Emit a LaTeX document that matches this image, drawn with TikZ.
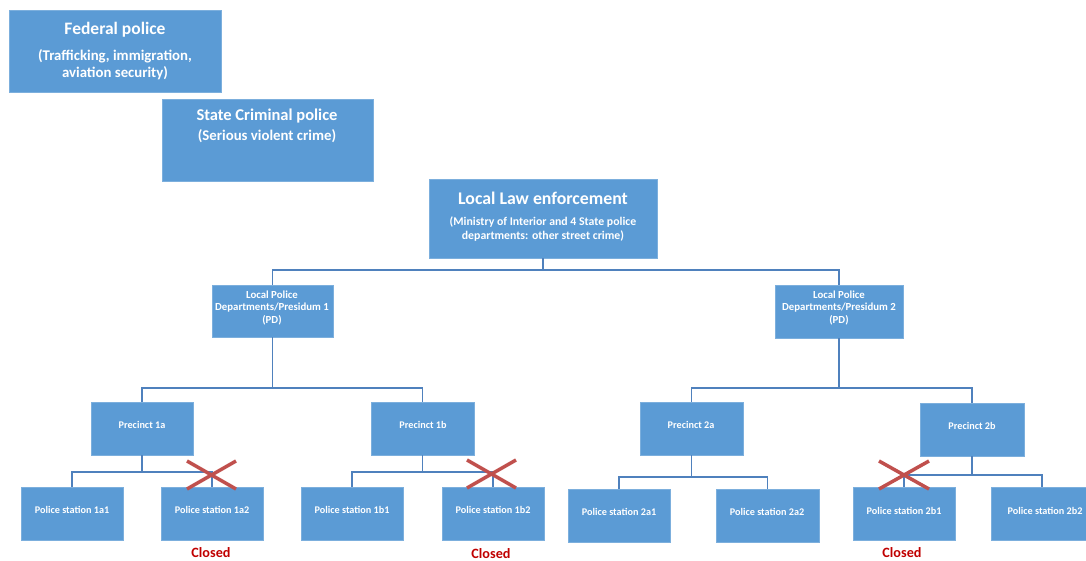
\documentclass[tikz,border=0pt]{standalone}
\usepackage{fontspec}
\setmainfont{Carlito}
\definecolor{boxblue}{HTML}{5B9BD5}
\definecolor{lineblue}{HTML}{4F81BD}
\definecolor{xred}{HTML}{C0504D}
\definecolor{closedred}{HTML}{C00000}
\begin{document}
\begin{tikzpicture}[x=1pt,y=-1pt,
  box/.style={draw=boxblue!80!white,fill=boxblue,inner sep=0pt,line width=0.6pt},
  txt/.style={text=white,font=\bfseries,align=center,inner sep=0pt},
  conn/.style={draw=lineblue,line width=1.6pt},
  cross/.style={draw=xred,line width=3.5pt},
  closed/.style={text=closedred,font=\fontsize{14.2}{16}\selectfont\bfseries,inner sep=0pt}]
\useasboundingbox (0,0) rectangle (1086,560);
\newcommand{\bx}[5]{\node[box,minimum width=#4-#2,minimum height=#5-#3] (#1) at ({(#2+#4)/2},{(#3+#5)/2}) {};}
% boxes
\bx{fed}{9}{10}{221}{92}
\bx{state}{162}{99}{373}{181}
\bx{ll}{429}{179}{657}{258}
\bx{pd1}{212}{285}{333}{337}
\bx{pd2}{775}{285}{903}{338}
\bx{p1a}{91}{402}{193}{455}
\bx{p1b}{371}{402}{474}{455}
\bx{p2a}{640}{402}{743}{455}
\bx{p2b}{920}{403}{1024}{456}
\bx{s1a1}{21}{487}{123}{540}
\bx{s1a2}{161}{487}{263}{540}
\bx{s1b1}{301}{487}{403}{540}
\bx{s1b2}{442}{487}{544}{540}
\bx{s2a1}{568}{489}{670}{542}
\bx{s2a2}{716}{489}{819}{542}
\bx{s2b1}{853}{487}{955}{540}
\bx{s2b2}{991}{487}{1093}{540}
% texts
\node[txt,font=\fontsize{17.5}{20}\selectfont\bfseries] (tfed) at (115,30) {Federal police};
\node[txt,font=\fontsize{14.8}{17}\selectfont\bfseries] (tfed2) at (115,65) {(Trafficking, immigration,\\aviation security)};
\node[txt,font=\fontsize{16.5}{20}\selectfont\bfseries] (tstate) at (267,116) {State Criminal police};
\node[txt,font=\fontsize{14.8}{17}\selectfont\bfseries] (tstate2) at (267,136) {(Serious violent crime)};
\node[txt,font=\fontsize{17.8}{21}\selectfont\bfseries] (tll) at (543,198) {Local Law enforcement};
\node[txt,font=\fontsize{11.8}{14}\selectfont\bfseries] (tll2) at (543,229) {(Ministry of Interior and 4 State police\\departments: other street crime)};
\node[txt,font=\fontsize{10.8}{12.5}\selectfont\bfseries] (tpd1) at (272,308) {Local Police\\Departments/Presidum 1\\(PD)};
\node[txt,font=\fontsize{10.8}{12.5}\selectfont\bfseries] (tpd2) at (839,308) {Local Police\\Departments/Presidum 2\\(PD)};
\foreach \n/\t/\xx/\yy in {p1a/Precinct 1a/142/425, p1b/Precinct 1b/423/425, p2a/Precinct 2a/691/425, p2b/Precinct 2b/972/426,
  s1a1/Police station 1a1/72/510, s1a2/Police station 1a2/212/510, s1b1/Police station 1b1/352/510, s1b2/Police station 1b2/493/510,
  s2a1/Police station 2a1/619/512, s2a2/Police station 2a2/767/512, s2b1/Police station 2b1/904/511, s2b2/Police station 2b2/1045/511}
  \node[txt,font=\fontsize{10.2}{12}\selectfont\bfseries] (t\n) at (\xx,\yy) {\t};
% connectors
\coordinate (b0) at (543,270);
\draw[conn] (ll.south) -- (b0);
\draw[conn] (b0) -| (pd1.north);
\draw[conn] (b0) -| (pd2.north);
\coordinate (b1) at (272.5,388);
\draw[conn] (pd1.south) -- (b1);
\draw[conn] (b1) -| (p1a.north);
\draw[conn] (b1) -| (p1b.north);
\coordinate (b2) at (839,388);
\draw[conn] (pd2.south) -- (b2);
\draw[conn] (b2) -| (p2a.north);
\draw[conn] (b2) -| (p2b.north);
\coordinate (c1a) at (142,472);
\draw[conn] (p1a.south) -- (c1a);
\draw[conn] (c1a) -| (s1a1.north);
\draw[conn] (c1a) -| (s1a2.north);
\coordinate (c1b) at (422.5,472);
\draw[conn] (p1b.south) -- (c1b);
\draw[conn] (c1b) -| (s1b1.north);
\draw[conn] (c1b) -| (s1b2.north);
\coordinate (c2a) at (691.5,477);
\draw[conn] (p2a.south) -- (c2a);
\draw[conn] (c2a) -| (s2a1.north);
\draw[conn] (c2a) -| (s2a2.north);
\coordinate (c2b) at (972,475);
\draw[conn] (p2b.south) -- (c2b);
\draw[conn] (c2b) -| (s2b1.north);
\draw[conn] (c2b) -| (s2b2.north);
% crosses
\draw[cross] (187,461) -- (236,489) (187,489) -- (236,461);
\draw[cross] (467,460) -- (516,488) (467,488) -- (516,460);
\draw[cross] (879,461) -- (929,489) (879,489) -- (929,461);
% closed labels
\node[closed] (cl1) at (211,553) {Closed};
\node[closed] (cl2) at (491,553.5) {Closed};
\node[closed] (cl3) at (902,553) {Closed};
\end{tikzpicture}
\end{document}
